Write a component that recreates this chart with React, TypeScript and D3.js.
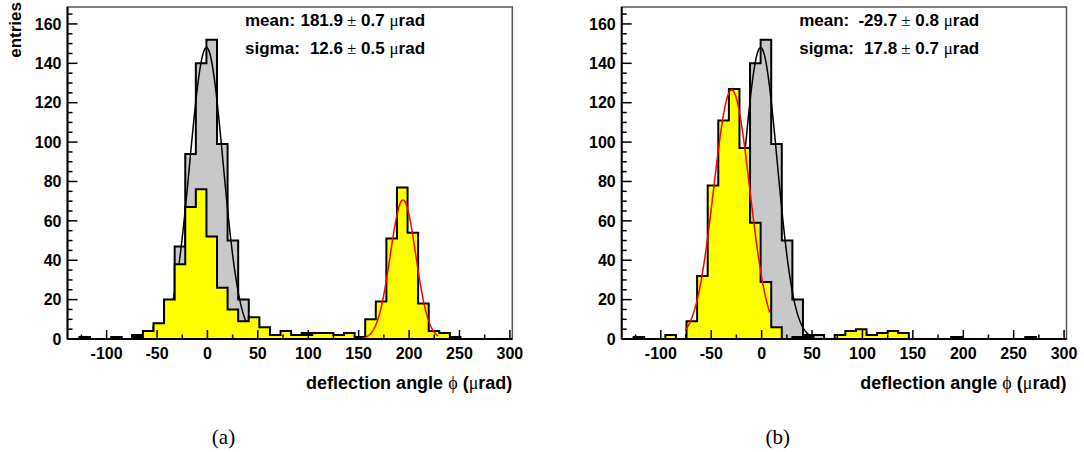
import React from 'react';
import * as d3 from 'd3';

// ---- data ----
const binStart = -137.5;
const binWidth = 10.5;
// reference (no-crystal) histogram, same in both panels
const grayCounts = [0, 0, 0, 0, 0, 0, 2, 3, 6, 18, 47, 94, 140, 152, 99, 50, 20, 2, 2, 0, 0, 0, 3, 0, 0, 0, 0, 0, 0, 0, 0, 0, 0, 0, 0, 0, 0, 0, 0, 0, 0, 0];
const yellowCountsA = [0, 1, 0, 0, 1, 0, 1, 4, 8, 20, 38, 67, 76, 52, 26, 15, 9, 11, 6, 2, 4, 2, 2, 3, 3, 2, 3, 1, 10, 19, 51, 77, 54, 18, 4, 3, 1, 0, 0, 0, 0, 0];
const yellowCountsB = [0, 1, 0, 0, 2, 0, 9, 32, 78, 111, 127, 97, 59, 29, 6, 0, 1, 1, 0, 0, 2, 4, 5, 2, 3, 4, 3, 0, 0, 0, 0, 1, 0, 0, 0, 0, 0, 0, 1, 0, 0, 0];
// gaussian fits: [amplitude, mean, sigma, from, to]
const refFit = [148, -1, 16.5, -50, 50];
const fitA = [70.6, 194, 12.6, 147, 229];
const fitB = [126.5, -29.7, 17.8, -76, 8];
const statsA = ['181.9', '0.7', '12.6', '0.5'];
const statsB = ['-29.7', '0.8', '17.8', '0.7'];
const xTicks = [-100, -50, 0, 50, 100, 150, 200, 250, 300];
const yTicks = [0, 20, 40, 60, 80, 100, 120, 140, 160];
const panelTags = ['(a)', '(b)'];

const SANS = '"Liberation Sans", Arial, Helvetica, sans-serif';
const SERIF = '"Liberation Serif", "Times New Roman", serif';

const FRAME_W = 444.8;
const TOP = 7;
const BOTTOM = 339;

function histPath(counts: number[], x: any, y: any) {
  const first = counts.findIndex((c) => c > 0);
  let last = counts.length - 1;
  while (last > 0 && counts[last] === 0) last--;
  const pts: [number, number][] = [];
  pts.push([x(binStart + first * binWidth), y(0)]);
  for (let i = first; i <= last; i++) {
    const l = binStart + i * binWidth;
    const r = l + binWidth;
    pts.push([x(l), y(counts[i])], [x(r), y(counts[i])]);
  }
  pts.push([x(binStart + (last + 1) * binWidth), y(0)]);
  return d3.line()(pts) + 'Z';
}

function fitPath(fit: number[], x: any, y: any) {
  const [a, m, s, from, to] = fit;
  const n = 120;
  const pts: [number, number][] = [];
  for (let i = 0; i <= n; i++) {
    const v = from + ((to - from) * i) / n;
    pts.push([x(v), y(a * Math.exp(-((v - m) * (v - m)) / (2 * s * s)))]);
  }
  return d3.line()(pts) || '';
}

function Panel({ x0, yellow, fit, stats, showYTitle, tag }: any) {
  const x = d3.scaleLinear().domain([-138.8, 302.4]).range([x0, x0 + FRAME_W]);
  const y = d3.scaleLinear().domain([0, 168.6]).range([BOTTOM, TOP]);
  const minorX = d3.range(-125, 301, 25).filter((v) => v % 50 !== 0);
  const minorY = d3.range(0, 166, 5).filter((v) => v % 20 !== 0);
  const tx = x0 + 177.5;
  const vx = x0 + 275.5;
  return (
    <g>
      <rect x={x0} y={TOP} width={FRAME_W} height={BOTTOM - TOP} fill="white" stroke="#555" strokeWidth={1.5} />
      <path d={histPath(grayCounts, x, y)} fill="#c8c8c8" stroke="#000" strokeWidth={2} />
      <path d={fitPath(refFit, x, y)} fill="none" stroke="#000" strokeWidth={1.5} />
      <path d={histPath(yellow, x, y)} fill="#ffff00" stroke="#000" strokeWidth={2} />
      <path d={fitPath(fit, x, y)} fill="none" stroke="#ff0000" strokeWidth={1.5} />
      {/* axes */}
      <line x1={x0} x2={x0 + FRAME_W} y1={BOTTOM} y2={BOTTOM} stroke="#000" strokeWidth={2} />
      <line x1={x0} x2={x0} y1={TOP} y2={BOTTOM} stroke="#000" strokeWidth={2} />
      {xTicks.map((v) => (
        <g key={'xt' + v}>
          <line x1={x(v)} x2={x(v)} y1={BOTTOM} y2={BOTTOM - 9} stroke="#000" strokeWidth={1.5} />
          <text x={x(v)} y={358.5} textAnchor="middle" fontFamily={SANS} fontWeight="bold" fontSize={16}>{v}</text>
        </g>
      ))}
      {minorX.map((v) => (
        <line key={'xm' + v} x1={x(v)} x2={x(v)} y1={BOTTOM} y2={BOTTOM - 4.5} stroke="#000" strokeWidth={1.5} />
      ))}
      {yTicks.map((v) => (
        <g key={'yt' + v}>
          <line x1={x0} x2={x0 + 10} y1={y(v)} y2={y(v)} stroke="#000" strokeWidth={1.5} />
          <text x={x0 - 6} y={y(v)} dy="0.36em" textAnchor="end" fontFamily={SANS} fontWeight="bold" fontSize={16}>{v}</text>
        </g>
      ))}
      {minorY.map((v) => (
        <line key={'ym' + v} x1={x0} x2={x0 + 5} y1={y(v)} y2={y(v)} stroke="#000" strokeWidth={1.5} />
      ))}
      <text x={x0 + FRAME_W} y={389} textAnchor="end" fontFamily={SANS} fontWeight="bold" fontSize={18}>
        deflection angle <tspan fontFamily={SERIF} fontWeight="normal">ϕ</tspan> (<tspan fontFamily={SERIF} fontWeight="normal">μ</tspan>rad)
      </text>
      {showYTitle && (
        <text transform="translate(21,2) rotate(-90)" textAnchor="end" fontFamily={SANS} fontWeight="bold" fontSize={17}>entries</text>
      )}
      {/* stats */}
      <g fontFamily={SANS} fontWeight="bold" fontSize={17}>
        <text x={tx} y={26}>mean:</text>
        <text x={vx} y={26} textAnchor="end">{stats[0]}</text>
        <text x={vx + 4} y={26} xmlSpace="preserve">
          <tspan fontFamily={SERIF} fontWeight="normal">±</tspan> {stats[1]} <tspan fontFamily={SERIF} fontWeight="normal">μ</tspan>rad
        </text>
        <text x={tx} y={54}>sigma:</text>
        <text x={vx} y={54} textAnchor="end">{stats[2]}</text>
        <text x={vx + 4} y={54} xmlSpace="preserve">
          <tspan fontFamily={SERIF} fontWeight="normal">±</tspan> {stats[3]} <tspan fontFamily={SERIF} fontWeight="normal">μ</tspan>rad
        </text>
      </g>
      <text x={x0 + 156} y={444} textAnchor="middle" fontFamily={SERIF} fontSize={21}>{tag}</text>
    </g>
  );
}

export default function App() {
  return (
    <svg width={1084} height={452} style={{ position: 'absolute', left: 0, top: 0, background: 'white' }}>
      <rect width={1084} height={452} fill="white" />
      <Panel x0={67.5} yellow={yellowCountsA} fit={fitA} stats={statsA} showYTitle tag={panelTags[0]} />
      <Panel x0={621.7} yellow={yellowCountsB} fit={fitB} stats={statsB} showYTitle={false} tag={panelTags[1]} />
    </svg>
  );
}
